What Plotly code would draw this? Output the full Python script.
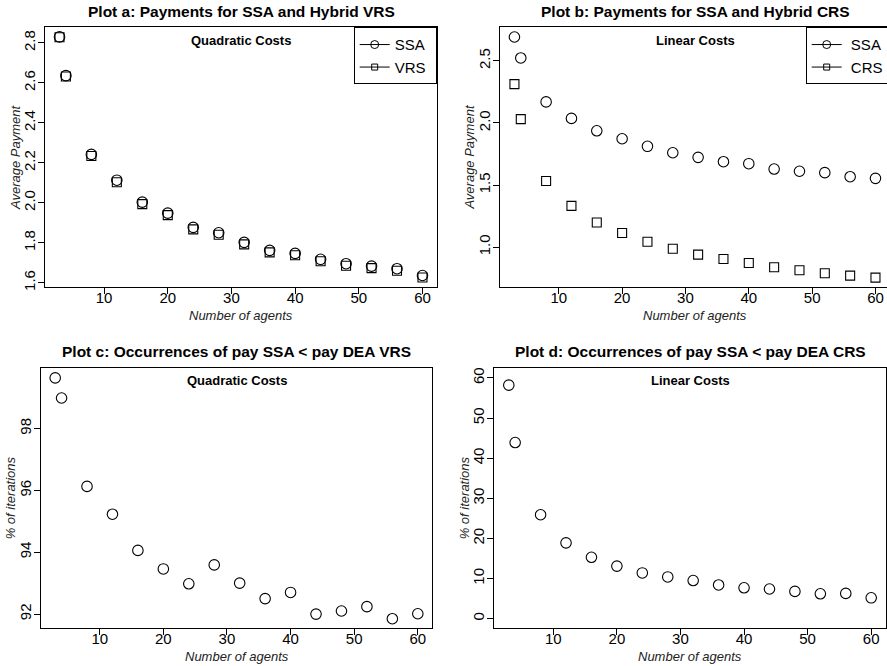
import plotly.graph_objects as go

# ---------------- data ----------------
agents = [3, 4, 8, 12, 16, 20, 24, 28, 32, 36, 40, 44, 48, 52, 56, 60]

ssa_quadratic = [2.830, 2.636, 2.242, 2.113, 2.003, 1.948, 1.877, 1.850,
                 1.802, 1.762, 1.747, 1.717, 1.695, 1.683, 1.670, 1.636]
vrs_quadratic = [2.828, 2.632, 2.234, 2.103, 1.993, 1.938, 1.867, 1.840,
                 1.792, 1.752, 1.737, 1.707, 1.685, 1.673, 1.660, 1.626]

ssa_linear = [2.693, 2.524, 2.170, 2.037, 1.937, 1.873, 1.812, 1.760,
              1.723, 1.688, 1.672, 1.629, 1.611, 1.600, 1.567, 1.554]
crs_linear = [2.313, 2.031, 1.533, 1.332, 1.198, 1.113, 1.043, 0.987,
              0.939, 0.904, 0.872, 0.837, 0.813, 0.789, 0.770, 0.754]

pct_ssa_lt_vrs = [99.64, 98.99, 96.13, 95.23, 94.06, 93.46, 92.98, 93.59,
                  93.00, 92.50, 92.70, 92.00, 92.10, 92.24, 91.85, 92.01]
pct_ssa_lt_crs = [58.2, 43.9, 25.9, 18.9, 15.3, 13.1, 11.4, 10.4,
                  9.5, 8.4, 7.7, 7.4, 6.8, 6.2, 6.3, 5.2]

x_ticks = [10, 20, 30, 40, 50, 60]
ya_ticks = [1.6, 1.8, 2.0, 2.2, 2.4, 2.6, 2.8]
ya_labels = ["1.6", "1.8", "2.0", "2.2", "2.4", "2.6", "2.8"]
yb_ticks = [1.0, 1.5, 2.0, 2.5]
yb_labels = ["1.0", "1.5", "2.0", "2.5"]
yc_ticks = [92, 94, 96, 98]
yd_ticks = [0, 10, 20, 30, 40, 50, 60]

titles = ["Plot a: Payments for SSA and Hybrid VRS",
          "Plot b: Payments for SSA and Hybrid CRS",
          "Plot c: Occurrences of pay SSA &lt; pay DEA VRS",
          "Plot d: Occurrences of pay SSA &lt; pay DEA CRS"]
subtitles = ["Quadratic Costs", "Linear Costs", "Quadratic Costs", "Linear Costs"]

# ---------------- figure ----------------
W, H = 887, 666
FONT = "Liberation Sans, Arial, Helvetica, sans-serif"
NB = "\u00a0"

def px(x):
    return x / W

def py(y):
    return (H - y) / H

fig = go.Figure()

circle = dict(symbol="circle-open", size=10.5, color="black", line=dict(width=1.1, color="black"))
square = dict(symbol="square-open", size=9, color="black", line=dict(width=1.1, color="black"))

# plot a
fig.add_trace(go.Scatter(x=agents, y=ssa_quadratic, mode="markers", marker=circle,
                         xaxis="x", yaxis="y", showlegend=False))
fig.add_trace(go.Scatter(x=agents, y=vrs_quadratic, mode="markers", marker=square,
                         xaxis="x", yaxis="y", showlegend=False))
# plot b
fig.add_trace(go.Scatter(x=agents, y=ssa_linear, mode="markers", marker=circle,
                         xaxis="x2", yaxis="y2", showlegend=False))
fig.add_trace(go.Scatter(x=agents, y=crs_linear, mode="markers", marker=square,
                         xaxis="x2", yaxis="y2", showlegend=False))
# plot c
fig.add_trace(go.Scatter(x=agents, y=pct_ssa_lt_vrs, mode="markers", marker=circle,
                         xaxis="x3", yaxis="y3", showlegend=False))
# plot d
fig.add_trace(go.Scatter(x=agents, y=pct_ssa_lt_crs, mode="markers", marker=circle,
                         xaxis="x4", yaxis="y4", showlegend=False))

# legend entries
leg_line = dict(color="black", width=1)
leg_circle = dict(symbol="circle-open", size=8, color="black", line=dict(width=1, color="black"))
leg_square = dict(symbol="square-open", size=6, color="black", line=dict(width=1, color="black"))
fig.add_trace(go.Scatter(x=[None], y=[None], mode="lines+markers", name="SSA" + NB,
                         line=leg_line, marker=leg_circle, xaxis="x", yaxis="y", legend="legend"))
fig.add_trace(go.Scatter(x=[None], y=[None], mode="lines+markers", name="VRS" + NB,
                         line=leg_line, marker=leg_square, xaxis="x", yaxis="y", legend="legend"))
fig.add_trace(go.Scatter(x=[None], y=[None], mode="lines+markers", name=NB + "SSA" + NB * 5,
                         line=leg_line, marker=leg_circle, xaxis="x2", yaxis="y2", legend="legend2"))
fig.add_trace(go.Scatter(x=[None], y=[None], mode="lines+markers", name=NB + "CRS" + NB * 5,
                         line=leg_line, marker=leg_square, xaxis="x2", yaxis="y2", legend="legend2"))

def xax(domain, rng, mirror=True):
    return dict(domain=domain, range=rng, tickvals=x_ticks, showline=True, linecolor="black",
                linewidth=1, mirror=mirror, ticks="outside", ticklen=6, tickcolor="black",
                ticklabelstandoff=-9,
                showgrid=False, zeroline=False, tickfont=dict(size=15, color="black", family=FONT),
                fixedrange=True)

def yax(domain, rng, vals, labels=None, mirror=True):
    d = dict(domain=domain, range=rng, tickvals=vals, showline=True, linecolor="black",
             linewidth=1, mirror=mirror, ticks="outside", ticklen=6, tickcolor="black",
             ticklabelstandoff=-3,
             showgrid=False, zeroline=False, tickangle=-90,
             tickfont=dict(size=15, color="black", family=FONT), fixedrange=True)
    if labels is not None:
        d["ticktext"] = labels
    return d

# pixel boxes (left, top, right, bottom)
box_a = (45.0, 27.3, 437.0, 287.3)
box_b = (500.0, 27.3, 887.0, 287.3)
box_c = (40.7, 368.3, 432.3, 628.3)
box_d = (494.3, 368.3, 885.7, 628.3)

def xd(b):
    return [px(b[0]), min(1.0, px(b[2]))]

def yd(b):
    return [py(b[3]), py(b[1])]

fig.update_layout(
    xaxis=dict(**xax(xd(box_a), [0.72, 62.28]), anchor="y"),
    yaxis=dict(**yax(yd(box_a), [1.577, 2.878], ya_ticks, ya_labels), anchor="x"),
    xaxis2=dict(**xax(xd(box_b), [0.72, 61.82]), anchor="y2"),
    yaxis2=dict(**yax(yd(box_b), [0.676, 2.771], yb_ticks, yb_labels, mirror=False), anchor="x2"),
    xaxis3=dict(**xax(xd(box_c), [0.72, 62.28]), anchor="y3"),
    yaxis3=dict(**yax(yd(box_c), [91.54, 99.95], yc_ticks), anchor="x3"),
    xaxis4=dict(**xax(xd(box_d), [0.72, 62.28]), anchor="y4"),
    yaxis4=dict(**yax(yd(box_d), [-2.4, 62.4], yd_ticks), anchor="x4"),
)

annotations = []
title_centers = [(241, 11.7), (695, 11.5), (236, 351.7), (690, 351.7)]
sub_centers = [(241, 40.7), (695, 40.7), (236.5, 380), (690, 380)]
xt_centers = [(241, 315), (695, 315), (236.5, 656), (690, 656)]
yt_centers = [(15.7, 157.3), (469.3, 157.3), (10.0, 498.3), (464.0, 498.3)]
ytitles = ["Average Payment", "Average Payment", "% of iterations", "% of iterations"]

for i in range(4):
    tx, ty = title_centers[i]
    annotations.append(dict(text="<b>" + titles[i] + "</b>", x=px(tx), y=py(ty), xref="paper", yref="paper",
                            showarrow=False, xanchor="center", yanchor="middle",
                            font=dict(size=15.5, color="black", family=FONT)))
    sx, sy = sub_centers[i]
    annotations.append(dict(text="<b>" + subtitles[i] + "</b>", x=px(sx), y=py(sy), xref="paper", yref="paper",
                            showarrow=False, xanchor="center", yanchor="middle",
                            font=dict(size=13, color="black", family=FONT)))
    ax_, ay_ = xt_centers[i]
    annotations.append(dict(text="<i>Number of agents</i>", x=px(ax_), y=py(ay_), xref="paper", yref="paper",
                            showarrow=False, xanchor="center", yanchor="middle",
                            font=dict(size=13, color="#222", family=FONT)))
    bx, by = yt_centers[i]
    annotations.append(dict(text="<i>" + ytitles[i] + "</i>", x=px(bx), y=py(by), xref="paper", yref="paper",
                            showarrow=False, xanchor="center", yanchor="middle", textangle=-90,
                            font=dict(size=13, color="#222", family=FONT)))

fig.update_layout(
    width=W, height=H,
    margin=dict(l=0, r=0, t=0, b=0, pad=0, autoexpand=False),
    paper_bgcolor="white", plot_bgcolor="white",
    font=dict(family=FONT, color="black"),
    annotations=annotations,
    legend=dict(x=px(436.7), y=py(27.3), xanchor="right", yanchor="top",
                bordercolor="black", borderwidth=1, bgcolor="white",
                font=dict(size=15, color="black", family=FONT), tracegroupgap=0),
    legend2=dict(x=px(805.7), y=py(27.3), xanchor="left", yanchor="top",
                 bordercolor="black", borderwidth=1, bgcolor="white",
                 font=dict(size=15, color="black", family=FONT), tracegroupgap=0),
)

fig.write_html("out.html", config={"displayModeBar": False},
               post_script="document.body.style.margin='0';document.body.style.overflow='hidden';")
